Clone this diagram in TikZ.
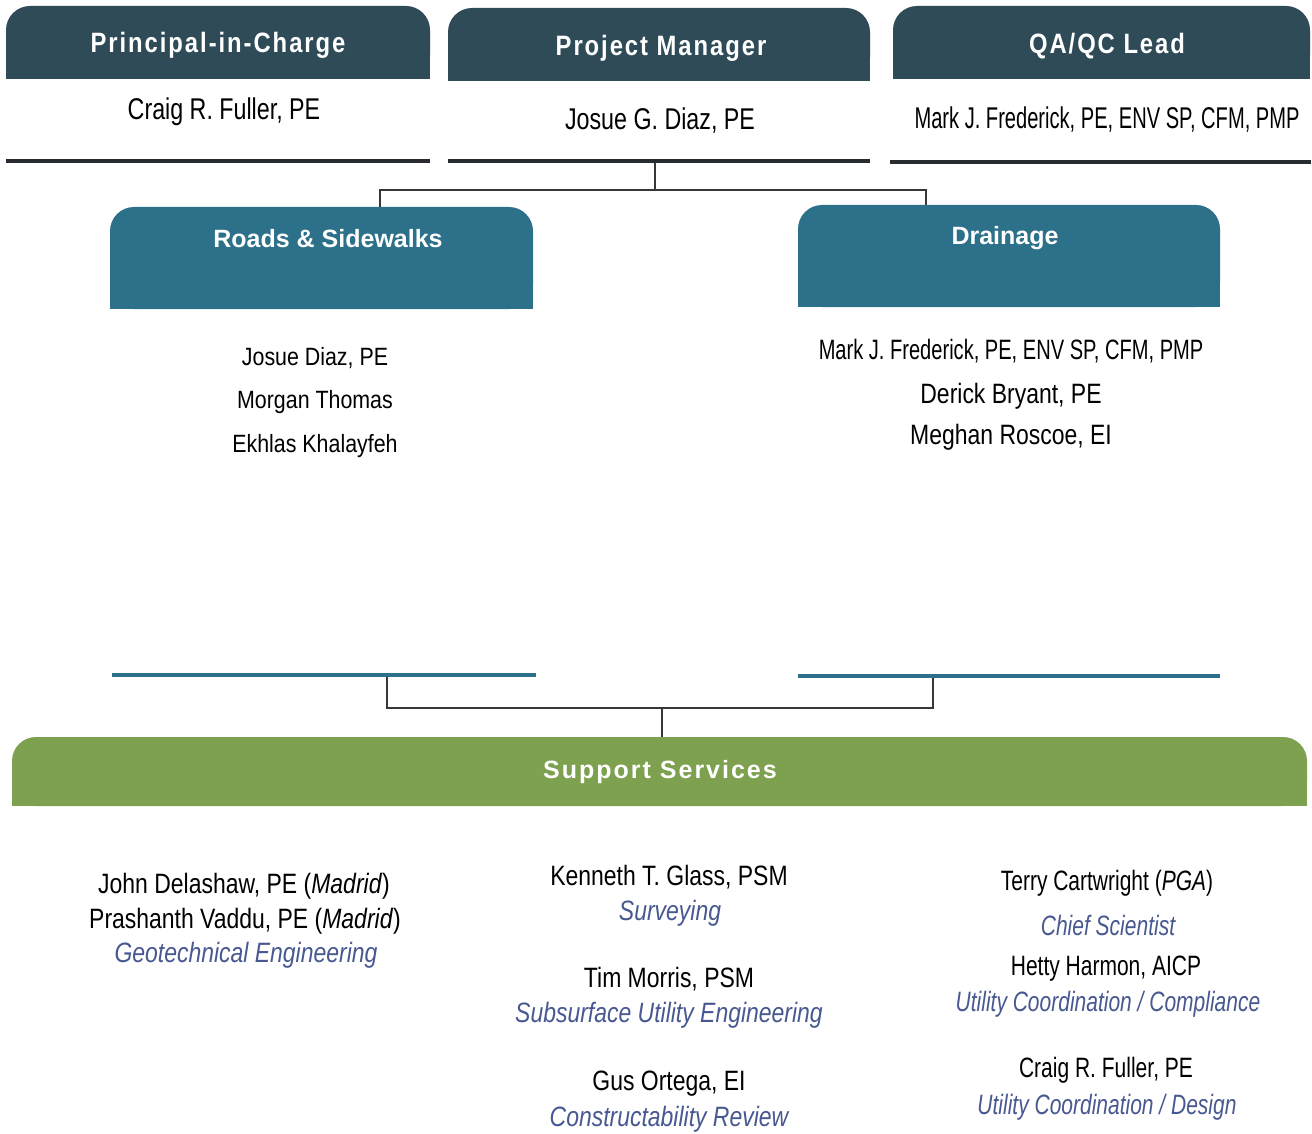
\documentclass[tikz,border=0pt]{standalone}
\usepackage{fontspec}
\setmainfont{Liberation Sans}
% narrow cuts of the sans face for the name lists
\newfontfamily\topnamefont{Liberation Sans}[FakeStretch=0.775]
\newfontfamily\topnamefontt{Liberation Sans}[FakeStretch=0.67]
\newfontfamily\namefont{Liberation Sans}[FakeStretch=0.82]
\newfontfamily\namefontn{Liberation Sans}[FakeStretch=0.75]
\newfontfamily\namefontt{Liberation Sans}[FakeStretch=0.717]
\newfontfamily\roadsfont{Liberation Sans}[FakeStretch=0.855]
% spaced titles for the coloured headers
\newfontfamily\titlefont{Liberation Sans}[FakeStretch=0.85, LetterSpace=7]
\newfontfamily\titlefontw{Liberation Sans}[LetterSpace=8]
\newfontfamily\titlefontp{Liberation Sans}

\definecolor{hdrdark}{RGB}{47,75,88}
\definecolor{teal}{RGB}{45,112,138}
\definecolor{leaf}{RGB}{126,161,80}
\definecolor{roleblue}{RGB}{72,88,145}
\definecolor{rulegray}{RGB}{40,44,48}
\definecolor{wiregray}{RGB}{55,55,55}

\tikzset{
  boxshape/.style={rectangle, rounded corners=24pt, inner sep=0pt, draw=none},
  barshape/.style={rectangle, inner sep=0pt, draw=none},
  title/.style={text=white, inner sep=0pt, font=\titlefont\bfseries\fontsize{28}{31}\selectfont},
  titlewide/.style={text=white, inner sep=0pt, font=\titlefontw\bfseries\fontsize{25}{28}\selectfont},
  titleplain/.style={text=white, inner sep=0pt, font=\titlefontp\bfseries\fontsize{25}{28}\selectfont},
  topperson/.style={inner sep=0pt, text=black, font=\topnamefont\fontsize{30}{33}\selectfont},
  toppersont/.style={inner sep=0pt, text=black, font=\topnamefontt\fontsize{30}{33}\selectfont},
  roadsperson/.style={inner sep=0pt, text=black, font=\roadsfont\fontsize{25}{28}\selectfont},
  person/.style={inner sep=0pt, text=black, font=\namefont\fontsize{28}{31}\selectfont},
  personn/.style={inner sep=0pt, text=black, font=\namefontn\fontsize{28}{31}\selectfont},
  persont/.style={inner sep=0pt, text=black, font=\namefontt\fontsize{28}{31}\selectfont},
  role/.style={inner sep=0pt, text=roleblue, font=\namefont\itshape\fontsize{28}{31}\selectfont},
  rolen/.style={inner sep=0pt, text=roleblue, font=\namefontn\itshape\fontsize{28}{31}\selectfont},
  conn/.style={draw=wiregray, line width=1.6pt},
}

\begin{document}
\begin{tikzpicture}[x=1pt, y=-1pt]
\useasboundingbox[fill=white] (0,0) rectangle (1312,1134);

% ---------- leadership row ----------
\node[boxshape, fill=hdrdark, minimum width=424pt, minimum height=73pt] (pic) at (218,42.5) {};
\fill[hdrdark] ([yshift=30pt]pic.south west) rectangle (pic.south east);
\node[title] (pict) at (218,45) {Principal-in-Charge};
\node[topperson] (picn) at (224,112) {Craig R. Fuller, PE};
\node[barshape, fill=rulegray, minimum width=424pt, minimum height=4.5pt] (picbar) at (218,161) {};

\node[boxshape, fill=hdrdark, minimum width=422pt, minimum height=73pt] (pm) at (659,44.5) {};
\fill[hdrdark] ([yshift=30pt]pm.south west) rectangle (pm.south east);
\node[title] (pmt) at (661,48) {Project Manager};
\node[topperson] (pmn) at (660,121) {Josue G. Diaz, PE};
\node[barshape, fill=rulegray, minimum width=422pt, minimum height=4.5pt] (pmbar) at (659,161) {};

\node[boxshape, fill=hdrdark, minimum width=417pt, minimum height=73pt] (qa) at (1101.5,42.5) {};
\fill[hdrdark] ([yshift=30pt]qa.south west) rectangle (qa.south east);
\node[title] (qat) at (1107,46) {QA/QC Lead};
\node[toppersont] (qan) at (1107,120) {Mark J. Frederick, PE, ENV SP, CFM, PMP};
\node[barshape, fill=rulegray, minimum width=421pt, minimum height=4.5pt] (qabar) at (1100.5,162) {};

% ---------- discipline leads ----------
\node[boxshape, fill=teal, minimum width=423pt, minimum height=102pt] (roads) at (321.5,258) {};
\fill[teal] ([yshift=40pt]roads.south west) rectangle (roads.south east);
\node[titleplain] (roadst) at (328,239) {Roads \& Sidewalks};
\node[roadsperson] (rn1) at (315,358) {Josue Diaz, PE};
\node[roadsperson] (rn2) at (315,402) {Morgan Thomas};
\node[roadsperson] (rn3) at (315,446) {Ekhlas Khalayfeh};
\node[barshape, fill=teal, minimum width=424pt, minimum height=4pt] (rbar) at (324,675) {};

\node[boxshape, fill=teal, minimum width=422pt, minimum height=102pt] (drain) at (1009,256) {};
\fill[teal] ([yshift=40pt]drain.south west) rectangle (drain.south east);
\node[titleplain] (draint) at (1005,238) {Drainage};
\node[persont] (dn1) at (1011,351) {Mark J. Frederick, PE, ENV SP, CFM, PMP};
\node[person] (dn2) at (1011,396) {Derick Bryant, PE};
\node[person] (dn3) at (1011,437) {Meghan Roscoe, EI};
\node[barshape, fill=teal, minimum width=422pt, minimum height=4pt] (dbar) at (1009,676) {};

% connectors from the project manager to the discipline leads
\coordinate (tj) at (655,190);
\draw[conn] (tj |- pmbar.south) -- (tj);
\draw[conn] (tj) -| ([xshift=270pt]roads.north west);
\draw[conn] (tj) -| ([xshift=128pt]drain.north west);

% ---------- support services ----------
\node[boxshape, fill=leaf, minimum width=1295pt, minimum height=69pt] (sup) at (659.5,771.5) {};
\fill[leaf] ([yshift=30pt]sup.south west) rectangle (sup.south east);
\node[titlewide] (supt) at (660,772) {Support Services};

\coordinate (mj) at (662,708);
\draw[conn] ([xshift=63pt]rbar.south) |- (mj) -| ([xshift=-76pt]dbar.south);
\draw[conn] (mj) -- (mj |- sup.north);

% left column
\node[person] (s1) at (244,886) {John Delashaw, PE (\textit{Madrid})};
\node[person] (s2) at (245,921) {Prashanth Vaddu, PE (\textit{Madrid})};
\node[role] (s3) at (246,955) {Geotechnical Engineering};

% middle column
\node[person] (m1) at (669,877) {Kenneth T. Glass, PSM};
\node[role] (m2) at (670,913) {Surveying};
\node[person] (m3) at (669,979) {Tim Morris, PSM};
\node[role] (m4) at (669,1015) {Subsurface Utility Engineering};
\node[person] (m5) at (669,1084) {Gus Ortega, EI};
\node[role] (m6) at (669,1119) {Constructability Review};

% right column
\node[personn] (r1) at (1107,883) {Terry Cartwright (\textit{PGA})};
\node[rolen] (r2) at (1108,925) {Chief Scientist};
\node[personn] (r3) at (1106,969) {Hetty Harmon, AICP};
\node[rolen] (r4) at (1108,1004) {Utility Coordination / Compliance};
\node[personn] (r5) at (1106,1070) {Craig R. Fuller, PE};
\node[rolen] (r6) at (1107,1107) {Utility Coordination / Design};
\end{tikzpicture}
\end{document}
